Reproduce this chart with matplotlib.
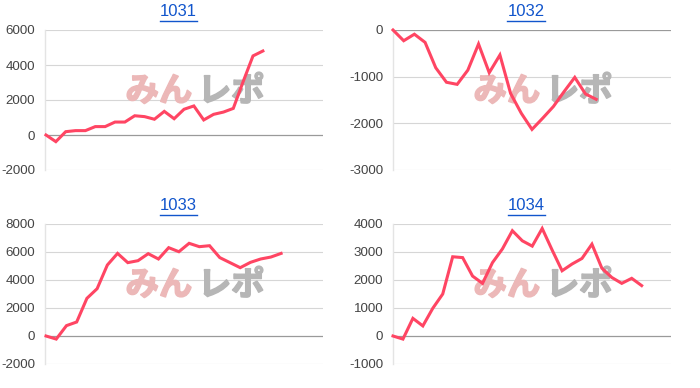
import matplotlib
matplotlib.use("Agg")
import matplotlib.pyplot as plt
from matplotlib.lines import Line2D
import matplotlib.patheffects as pe

plt.rcParams['font.family'] = ['Liberation Sans', 'DejaVu Sans']

titles = ["1031", "1032", "1033", "1034"]

s1031 = [0, -380, 190, 250, 250, 480, 480, 740, 740, 1100, 1050, 900, 1350, 930,
         1470, 1660, 860, 1180, 1310, 1520, 3050, 4520, 4800]
s1032 = [0, -230, -90, -265, -810, -1120, -1165, -860, -300, -915, -535, -1360,
         -1785, -2130, -1890, -1640, -1320, -1015, -1370, -1485]
s1033 = [0, -220, 740, 1000, 2690, 3380, 5070, 5900, 5240, 5380, 5880, 5500, 6310,
         6020, 6620, 6380, 6450, 5600, 5240, 4880, 5260, 5500, 5640, 5900]
s1034 = [0, -110, 630, 360, 990, 1500, 2830, 2800, 2140, 1880, 2620, 3110, 3760,
         3400, 3210, 3840, 3070, 2330, 2570, 2770, 3280, 2420, 2090, 1880, 2060, 1800]
series = [s1031, s1032, s1033, s1034]

yticks = [
    [-2000, 0, 2000, 4000, 6000],
    [-3000, -2000, -1000, 0],
    [-2000, 0, 2000, 4000, 6000, 8000],
    [-1000, 0, 1000, 2000, 3000, 4000],
]
xlims = [(-0.1, 28.1), (0, 26.0), (-0.1, 27.1), (0, 27.95)]

W, H = 700, 388
fig = plt.figure(figsize=(7, 3.88), dpi=100)

# pixel boxes: (left, top, right, bottom)
boxes = [(45, 30, 323, 170), (393, 30, 671, 170), (45, 224, 323, 364), (393, 224, 671, 364)]
title_x = [178, 526]
title_y = [12, 206]

line_color = '#ff4563'
pink = '#ecb8b8'
grey = '#b6b6b6'
title_texts = []
for i, (ser, yt, xl, box) in enumerate(zip(series, yticks, xlims, boxes)):
    l, t, r, b = box
    ax = fig.add_axes([l / W, 1 - b / H, (r - l) / W, (b - t) / H])
    ax.set_xlim(*xl)
    ax.set_ylim(yt[0], yt[-1])
    ax.set_yticks(yt)
    ax.set_yticklabels([str(v) for v in yt])
    ax.set_xticks([])
    for sp in ['top', 'right', 'bottom']:
        ax.spines[sp].set_visible(False)
    ax.spines['left'].set_color('#e4e4e4')
    ax.spines['left'].set_linewidth(1.0)
    ax.tick_params(axis='y', length=0, pad=7, labelsize=9.6, labelcolor='#444444')
    for v in yt:
        if v == 0:
            ax.axhline(v, color='#9a9a9a', lw=0.9, zorder=1)
        else:
            ax.axhline(v, color='#d6d6d6', lw=0.8, zorder=1)
    # watermark
    ax.text(0.53, 0.56, "みん", transform=ax.transAxes, ha='right', va='center',
            fontsize=24, fontweight='bold', color=pink,
            family=['Noto Sans CJK JP'], zorder=2,
            path_effects=[pe.withStroke(linewidth=1.2, foreground=pink)])
    ax.text(0.55, 0.56, "レポ", transform=ax.transAxes, ha='left', va='center',
            fontsize=24, fontweight='bold', color=grey,
            family=['Noto Sans CJK JP'], zorder=2,
            path_effects=[pe.withStroke(linewidth=1.2, foreground=grey)])
    ax.plot(range(len(ser)), ser, color=line_color, lw=2.2, zorder=3,
            solid_joinstyle='miter', clip_on=False)
    tx = title_x[i % 2] / W
    ty = 1 - title_y[i // 2] / H
    tt = fig.text(tx, ty, titles[i], ha='center', va='center', fontsize=12,
                  color='#1155cc')
    title_texts.append(tt)

fig.canvas.draw()
renderer = fig.canvas.get_renderer()
for tt in title_texts:
    bb = tt.get_window_extent(renderer)
    y = bb.y0 - 1.0
    fig.add_artist(Line2D([bb.x0 / W, bb.x1 / W], [y / H, y / H],
                          transform=fig.transFigure, color='#1155cc', lw=1.0))

fig.savefig("out.png", dpi=100)
